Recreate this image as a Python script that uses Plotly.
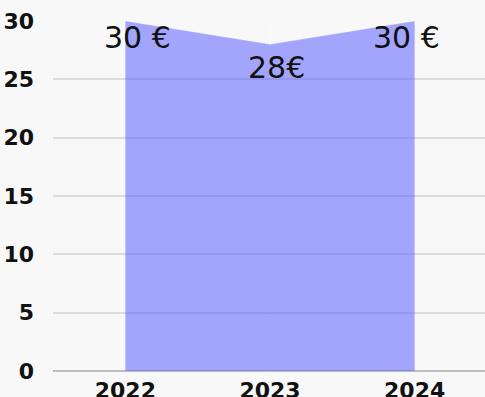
import plotly.graph_objects as go

years = ["2022", "2023", "2024"]
prices = [30, 28, 30]
labels = ["30 €", "28€", "30 €"]
y_ticks = [0, 5, 10, 15, 20, 25, 30]

label_dx = [12, 6, -8]
label_dy = [-16.5, -23.5, -16.5]

fig = go.Figure()
fig.add_trace(go.Scatter(
    x=years, y=prices, mode="lines", fill="tozeroy",
    fillcolor="rgba(92,97,255,0.55)",
    line=dict(width=0.5, color="rgba(255,255,255,0.5)"),
    hoverinfo="skip", showlegend=False,
))

for i, (p, lab, dx, dy) in enumerate(zip(prices, labels, label_dx, label_dy)):
    fig.add_annotation(
        x=i, y=p, text=lab, showarrow=False,
        xanchor="center", yanchor="middle", xshift=dx, yshift=dy,
        font=dict(family="DejaVu Sans", size=30, color="#111111"),
    )

fig.update_layout(
    width=487, height=420,
    margin=dict(l=53, r=0, t=21, b=49),
    paper_bgcolor="#f8f8f8", plot_bgcolor="#f8f8f8",
    font=dict(family="DejaVu Sans", color="#111111"),
    xaxis=dict(
        type="category", range=[-0.5, 2.5],
        showgrid=True, gridcolor="#fcfcfc", gridwidth=1,
        showline=False, zeroline=False,
        tickfont=dict(family="DejaVu Sans", size=22, weight="bold"),
        ticks="", ticklabelstandoff=4,
    ),
    yaxis=dict(
        range=[0, 30], tickvals=y_ticks,
        showgrid=True, gridcolor="#dcdcdc", gridwidth=2,
        zeroline=True, zerolinecolor="#bdbdbd", zerolinewidth=2,
        tickfont=dict(family="DejaVu Sans", size=22, weight="bold"),
        ticks="", ticklabelstandoff=18,
    ),
)

fig.write_html("out.html")
